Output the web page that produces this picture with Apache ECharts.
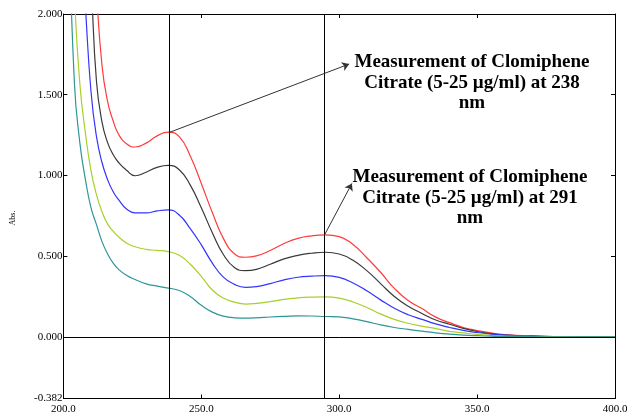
<!DOCTYPE html>
<html>
<head>
<meta charset="utf-8">
<script src="https://cdn.jsdelivr.net/npm/echarts@6/dist/echarts.min.js"></script>
<style>
  html, body { margin: 0; padding: 0; background: #fff; }
  #chart { width: 627px; height: 416px; }
</style>
</head>
<body>
<div id="chart"></div>
<script>
// wavelength grid (nm)
const wavelengths = [202, 204, 206, 208, 210, 212, 214, 216, 218, 220, 223, 226, 230, 234, 238, 242, 246, 250, 254, 258,
  262, 266, 270, 275, 280, 285, 290, 295, 300, 305, 310, 315, 320, 325, 330, 335, 340, 345, 350, 355, 360, 370, 380, 390, 400]

// absorbance per concentration
const absRed = [6, 5.2, 4.4, 3.6, 2.85, 2.15, 1.68, 1.46, 1.34, 1.255, 1.195, 1.176, 1.2, 1.245, 1.268, 1.24, 1.12, 0.95, 0.77, 0.61,
  0.515, 0.493, 0.502, 0.535, 0.578, 0.61, 0.626, 0.632, 0.621, 0.572, 0.49, 0.4, 0.3, 0.225, 0.175, 0.122, 0.088, 0.058, 0.039, 0.024, 0.014, 0.005, 0.001, 0, 0]
const absBlack = [5, 4.2, 3.4, 2.7, 2.2, 1.58, 1.33, 1.205, 1.13, 1.08, 1.03, 0.998, 1.02, 1.05, 1.062, 1.035, 0.94, 0.8, 0.645, 0.51,
  0.43, 0.41, 0.418, 0.45, 0.483, 0.505, 0.518, 0.524, 0.513, 0.474, 0.41, 0.33, 0.25, 0.19, 0.145, 0.104, 0.078, 0.052, 0.033, 0.02, 0.011, 0.004, 0.001, 0, 0]
const absBlue = [4.2, 3.4, 2.6, 2.04, 1.52, 1.24, 1.08, 0.975, 0.9, 0.85, 0.79, 0.768, 0.768, 0.78, 0.786, 0.755, 0.67, 0.57, 0.457, 0.37,
  0.325, 0.307, 0.311, 0.33, 0.353, 0.369, 0.376, 0.379, 0.368, 0.334, 0.285, 0.229, 0.177, 0.137, 0.108, 0.08, 0.058, 0.04, 0.027, 0.017, 0.01, 0.004, 0.001, 0, 0]
const absGreen = [3, 2.12, 1.56, 1.26, 1.03, 0.88, 0.775, 0.7, 0.655, 0.62, 0.58, 0.558, 0.542, 0.536, 0.528, 0.505, 0.45, 0.375, 0.29, 0.24,
  0.215, 0.203, 0.207, 0.218, 0.232, 0.241, 0.246, 0.248, 0.24, 0.216, 0.182, 0.142, 0.108, 0.084, 0.066, 0.051, 0.034, 0.024, 0.015, 0.009, 0.005, 0.002, 0.001, 0, 0]
const absTeal = [2.6, 1.57, 1.197, 0.973, 0.8, 0.695, 0.59, 0.515, 0.458, 0.418, 0.38, 0.355, 0.328, 0.314, 0.302, 0.287, 0.25, 0.195, 0.153, 0.128,
  0.118, 0.116, 0.118, 0.123, 0.127, 0.13, 0.129, 0.126, 0.124, 0.111, 0.094, 0.074, 0.058, 0.046, 0.035, 0.025, 0.017, 0.011, 0.007, 0.004, 0.002, 0.001, 0, 0, 0]

const yTicks = [-0.382, 0, 0.5, 1, 1.5, 2]
const peak1 = 238.2
const peak2 = 294.7

const serif = '"Liberation Serif", "DejaVu Serif", serif'

function pairs (ys) {
  return wavelengths.map((x, i) => [x, ys[i]])
}

function curve (name, color, ys) {
  return {
    name: name,
    type: 'line',
    data: pairs(ys),
    smooth: 0.5,
    showSymbol: false,
    clip: true,
    lineStyle: { color: color, width: 1.2 },
    silent: true
  }
}

const chart = echarts.init(document.getElementById('chart'))

const series = [
  curve('25 µg/ml', '#ff3b3b', absRed),
  curve('20 µg/ml', '#3a3a3a', absBlack),
  curve('15 µg/ml', '#3434ff', absBlue),
  curve('10 µg/ml', '#a8cf2a', absGreen),
  curve('5 µg/ml', '#2f9595', absTeal)
]

// reference lines and arrows
series.push({
  type: 'line',
  data: [],
  silent: true,
  markLine: {
    silent: true,
    animation: false,
    symbol: 'none',
    label: { show: false },
    lineStyle: { color: '#000', width: 1, type: 'solid' },
    emphasis: { disabled: true },
    data: [
      { yAxis: 0 },
      { xAxis: peak1 },
      { xAxis: peak2 }
    ]
  }
})
series.push({
  type: 'line',
  data: [],
  silent: true,
  markLine: {
    silent: true,
    animation: false,
    symbol: ['none', 'arrow'],
    symbolSize: 7,
    label: { show: false },
    lineStyle: { color: '#333', width: 1, type: 'solid' },
    emphasis: { disabled: true },
    data: [
      [{ coord: [peak1, 1.265] }, { coord: [303.6, 1.69] }],
      [{ coord: [peak2, 0.632] }, { coord: [304.6, 0.95] }]
    ]
  }
})

const annoStyle = {
  fontFamily: serif,
  fontWeight: 'bold',
  fontSize: 19,
  lineHeight: 20.5,
  fill: '#000',
  align: 'center',
  verticalAlign: 'top'
}

chart.setOption({
  animation: false,
  backgroundColor: '#fff',
  grid: { left: 63.4, right: 12, top: 14, bottom: 17.5, outerBoundsMode: 'none' },
  xAxis: [
    {
      type: 'value',
      min: 200,
      max: 400,
      interval: 50,
      axisLine: { show: true, onZero: false, lineStyle: { color: '#000', width: 1 } },
      axisTick: { show: true, inside: true, length: 4, lineStyle: { color: '#000' } },
      axisLabel: {
        color: '#000',
        fontFamily: serif,
        fontSize: 11,
        margin: 5,
        formatter: v => v.toFixed(1)
      },
      splitLine: { show: false }
    },
    {
      type: 'value',
      position: 'top',
      min: 200,
      max: 400,
      interval: 50,
      axisLine: { show: true, onZero: false, lineStyle: { color: '#000', width: 1 } },
      axisTick: { show: true, inside: true, length: 4, lineStyle: { color: '#000' } },
      axisLabel: { show: false },
      splitLine: { show: false }
    }
  ],
  yAxis: [
    {
      type: 'value',
      min: -0.382,
      max: 2,
      axisLine: { show: true, onZero: false, lineStyle: { color: '#000', width: 1 } },
      axisTick: { show: true, inside: true, length: 4, customValues: yTicks, lineStyle: { color: '#000' } },
      axisLabel: {
        color: '#000',
        fontFamily: serif,
        fontSize: 11,
        margin: 1,
        customValues: yTicks,
        formatter: v => v.toFixed(3)
      },
      splitLine: { show: false }
    },
    {
      type: 'value',
      position: 'right',
      min: -0.382,
      max: 2,
      axisLine: { show: true, onZero: false, lineStyle: { color: '#000', width: 1 } },
      axisTick: { show: true, inside: true, length: 4, customValues: [0, 0.5, 1, 1.5], lineStyle: { color: '#000' } },
      axisLabel: { show: false },
      splitLine: { show: false }
    }
  ],
  graphic: [
    {
      type: 'text',
      x: 13,
      y: 218,
      rotation: Math.PI / 2,
      style: { text: 'Abs.', fontFamily: serif, fontSize: 8, fill: '#000', align: 'center', verticalAlign: 'middle' }
    },
    {
      type: 'text',
      x: 472,
      y: 52,
      style: Object.assign({ text: 'Measurement of Clomiphene\nCitrate (5-25 µg/ml) at 238\nnm' }, annoStyle)
    },
    {
      type: 'text',
      x: 470,
      y: 167,
      style: Object.assign({ text: 'Measurement of Clomiphene\nCitrate (5-25 µg/ml) at 291\nnm' }, annoStyle)
    }
  ],
  series: series
})
</script>
</body>
</html>
